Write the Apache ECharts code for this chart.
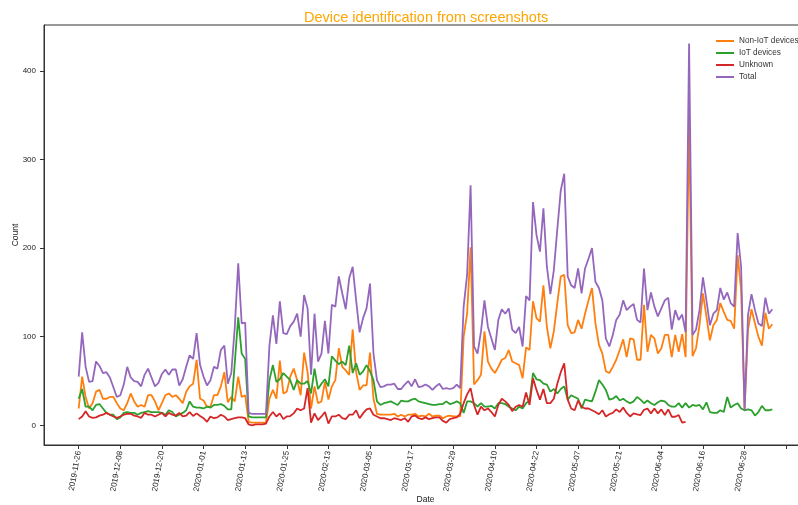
<!DOCTYPE html>
<html>
<head>
<meta charset="utf-8">
<script src="https://cdn.jsdelivr.net/npm/echarts@6/dist/echarts.min.js"></script>
<style>
  html, body { margin: 0; padding: 0; background: #fff; }
  #chart { width: 798px; height: 505px; }
</style>
</head>
<body>
<div id="chart"></div>
<script>
// Daily counts, one entry per recorded day (x = day index)
const tickLabels = [
  '2019-11-26', '2019-12-08', '2019-12-20', '2020-01-01', '2020-01-13',
  '2020-01-25', '2020-02-13', '2020-03-05', '2020-03-17', '2020-03-29',
  '2020-04-10', '2020-04-22', '2020-05-07', '2020-05-21', '2020-06-04',
  '2020-06-16', '2020-06-28', ''
];
const tickStep = 12;

const nonIot = [
  19, 55, 32, 19, 25, 38, 40, 30, 30, 32, 32, 25, 19, 17, 25, 36, 27, 21, 23, 21,
  34, 34, 27, 17, 25, 34, 36, 32, 34, 30, 25, 38, 44, 47, 74, 30, 28, 21, 21, 34,
  34, 44, 60, 26, 32, 27, 55, 32, 34, 4, 3, 3, 3, 3, 3, 30, 40, 30, 73, 36,
  38, 55, 64, 51, 34, 82, 60, 19, 44, 25, 27, 49, 29, 44, 51, 87, 66, 62, 57, 108,
  60, 40, 45, 45, 82, 30, 13, 12, 12, 12, 12, 13, 10, 12, 10, 12, 12, 13, 10, 11,
  10, 13, 10, 11, 11, 8, 10, 11, 10, 10, 10, 100, 126, 201, 46, 51, 57, 106, 72, 64,
  59, 66, 74, 76, 85, 72, 70, 68, 53, 88, 85, 140, 121, 117, 158, 111, 87, 106, 138, 168,
  170, 113, 104, 105, 119, 109, 126, 141, 155, 115, 91, 81, 61, 59, 66, 74, 85, 97, 77, 98,
  97, 74, 74, 136, 83, 102, 98, 81, 87, 102, 102, 77, 102, 83, 103, 77, 345, 78, 87, 113,
  149, 123, 96, 113, 119, 138, 128, 119, 118, 109, 192, 153, 17, 108, 131, 115, 100, 90, 127, 109,
  114
];

const iot = [
  30, 41, 21, 21, 17, 23, 24, 19, 14, 12, 12, 7, 9, 14, 15, 14, 14, 12, 14, 15,
  16, 15, 15, 15, 14, 12, 17, 15, 10, 12, 14, 17, 27, 21, 20, 20, 19, 21, 20, 23,
  23, 24, 22, 18, 18, 70, 122, 81, 75, 10, 9, 9, 9, 9, 9, 51, 68, 49, 52, 59,
  55, 51, 40, 51, 47, 47, 50, 36, 64, 41, 47, 52, 44, 78, 73, 69, 72, 68, 90, 59,
  70, 57, 61, 68, 61, 51, 27, 23, 25, 26, 27, 25, 23, 28, 27, 27, 29, 30, 27, 26,
  25, 24, 23, 23, 24, 24, 27, 24, 25, 27, 25, 14, 27, 27, 25, 21, 25, 21, 21, 22,
  19, 25, 25, 24, 21, 19, 17, 21, 19, 25, 28, 59, 52, 51, 47, 46, 38, 41, 36, 41,
  44, 29, 34, 32, 30, 19, 29, 28, 27, 38, 51, 46, 40, 29, 30, 33, 28, 30, 27, 25,
  27, 32, 29, 25, 28, 25, 23, 26, 28, 27, 23, 21, 21, 25, 20, 25, 20, 23, 22, 23,
  18, 26, 15, 14, 14, 17, 15, 32, 20, 23, 25, 19, 17, 18, 17, 11, 15, 22, 17, 17,
  18
];

// Unknown devices stop being recorded after day 175
const unknown = [
  7, 10, 16, 10, 8.5, 9, 11, 12, 14, 12, 10, 8.5, 10, 12, 13, 13, 11, 10, 8.5, 14,
  12, 12, 10, 12, 14, 10, 14, 12, 11, 14, 10, 11, 15, 10.5, 13.5, 10.5, 8, 4, 10, 8,
  9, 12, 10, 6, 7, 8, 9, 9, 8, 1, 0, 1, 1, 1, 2, 10, 15, 10, 13.5, 7,
  10, 10.5, 13.5, 19, 17, 19, 42, 3, 13.5, 6, 10, 15, 2, 10, 10, 12, 8, 7, 12, 12,
  17, 8, 13.5, 18, 19, 12, 10, 8, 8, 7, 6, 8, 7, 6, 8, 4, 10, 11, 8, 7,
  9, 7, 8, 9, 9, 5, 3, 7, 8, 9, 13, 25, 35, 42, 23, 12, 21, 17, 19, 15,
  10, 23, 30, 27, 23, 16, 21, 23, 21, 37, 23, 53, 40, 29, 41, 25, 25, 30, 47, 60,
  70, 29, 19, 17, 28, 21, 19, 19, 17, 15, 12.5, 17, 10, 12.5, 14, 18, 15, 20, 14, 10,
  13.5, 12.5, 11.6, 17.5, 19, 13.5, 19, 13.5, 18, 11.6, 18, 9.7, 9.7, 11.6, 3, 4
];

const total = [
  55, 105, 66, 49, 50, 72, 67, 59, 60, 54, 43, 32, 34, 46, 66, 54, 50, 49, 44, 57,
  64, 54, 44, 48, 58, 63, 57, 63, 63, 45, 52, 66, 79, 75, 104, 68, 55, 45, 51, 66,
  64, 85, 90, 47, 59, 110, 183, 115, 116, 14, 13, 13, 13, 13, 13, 90, 124, 92, 140, 104,
  103, 112, 117, 126, 100, 147, 132, 57, 126, 72, 81, 118, 81, 136, 134, 168, 149, 131, 166, 179,
  141, 105, 121, 132, 160, 81, 51, 43, 44, 46, 46, 47, 41, 41, 46, 50, 44, 52, 43, 44,
  46, 44, 40, 44, 47, 41, 42, 41, 42, 46, 42, 134, 170, 271, 89, 81, 106, 141, 111, 98,
  85, 119, 131, 126, 132, 108, 104, 111, 89, 146, 141, 252, 215, 196, 245, 179, 148, 175, 221, 265,
  284, 168, 158, 155, 177, 149, 177, 188, 200, 162, 155, 141, 98, 89, 102, 119, 125, 141, 130, 134,
  137, 119, 116, 177, 130, 150, 134, 123, 132, 141, 144, 108, 130, 119, 125, 105, 431, 102, 108, 130,
  167, 141, 113, 126, 130, 155, 142, 150, 138, 134, 217, 179, 17, 125, 148, 130, 115, 112, 144, 126,
  131
];

const yTicks = [0, 100, 200, 300, 400];

const pairs = arr => arr.map((v, i) => [i, v]);
const xTicks = tickLabels.map((_, k) => k * tickStep);

const axisColor = '#333333';
const font = 'Liberation Sans, Arial, sans-serif';

function lineSeries(name, data, color) {
  return {
    name, type: 'line', data: pairs(data),
    showSymbol: false, symbol: 'none',
    lineStyle: { color, width: 1.8 },
    itemStyle: { color },
    connectNulls: false,
    silent: true
  };
}

const chart = echarts.init(document.getElementById('chart'), null, { renderer: 'canvas' });
chart.setOption({
  animation: false,
  backgroundColor: '#ffffff',
  textStyle: { fontFamily: font },
  title: {
    text: 'Device identification from screenshots',
    left: 299, top: 5,
    textStyle: { color: '#FFA500', fontSize: 14.5, fontWeight: 'normal', fontFamily: font }
  },
  legend: {
    orient: 'vertical',
    left: 711, top: 31,
    itemWidth: 18, itemHeight: 2, itemGap: 2,
    icon: 'rect',
    textStyle: { color: '#333', fontSize: 8.2, lineHeight: 10, fontFamily: font },
    data: ['Non-IoT devices', 'IoT devices', 'Unknown', 'Total']
  },
  grid: {
    left: 44, top: 25, width: 763, height: 420,
    outerBoundsMode: 'none',
    containLabel: false,
    show: true, borderColor: axisColor, borderWidth: 1, backgroundColor: 'transparent'
  },
  xAxis: {
    type: 'value', min: -10, max: 210,
    name: 'Date', nameLocation: 'middle', nameGap: 50, nameMoveOverlap: false,
    nameTextStyle: { color: '#222', fontSize: 8.5, fontFamily: font },
    axisLine: { show: true, onZero: false, lineStyle: { color: axisColor, width: 1 } },
    axisTick: { show: true, length: 4, lineStyle: { color: axisColor }, customValues: xTicks },
    axisLabel: {
      customValues: xTicks, rotate: 80, margin: 6,
      color: '#222', fontSize: 8, fontFamily: font,
      formatter: v => tickLabels[Math.round(v / tickStep)] || ''
    },
    splitLine: { show: false }
  },
  yAxis: {
    type: 'value', min: -22.2, max: 451.8,
    name: 'Count', nameLocation: 'middle', nameGap: 24, nameMoveOverlap: false,
    nameTextStyle: { color: '#222', fontSize: 8.5, fontFamily: font },
    axisLine: { show: true, onZero: false, lineStyle: { color: axisColor, width: 1 } },
    axisTick: { show: true, length: 4, lineStyle: { color: axisColor }, customValues: yTicks },
    axisLabel: { customValues: yTicks, margin: 8, color: '#222', fontSize: 8, fontFamily: font },
    splitLine: { show: false }
  },
  series: [
    lineSeries('Non-IoT devices', nonIot, '#ff7f0e'),
    lineSeries('IoT devices', iot, '#2ca02c'),
    lineSeries('Unknown', unknown, '#d62728'),
    lineSeries('Total', total, '#9467bd')
  ]
});
</script>
</body>
</html>
